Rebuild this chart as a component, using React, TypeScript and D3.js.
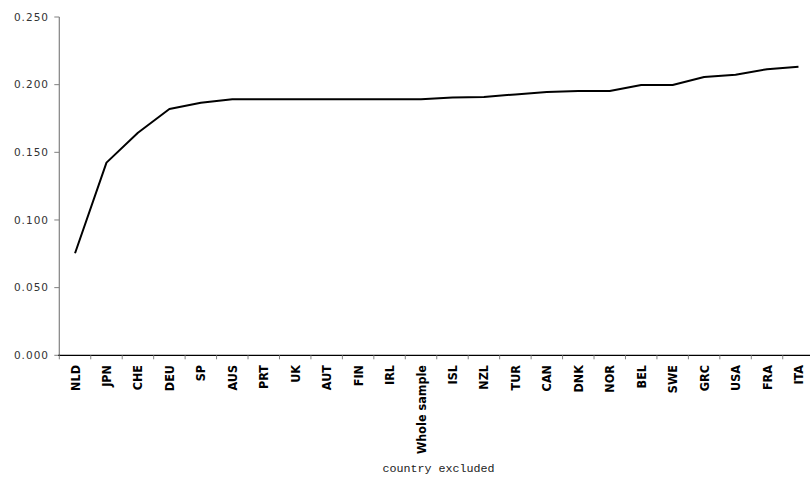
import React from "react";
import * as d3 from "d3";

const categories = [
  "NLD", "JPN", "CHE", "DEU", "SP", "AUS", "PRT", "UK", "AUT", "FIN", "IRL",
  "Whole sample", "ISL", "NZL", "TUR", "CAN", "DNK", "NOR", "BEL", "SWE",
  "GRC", "USA", "FRA", "ITA",
];
const values = [
  0.0754, 0.1424, 0.1645, 0.182, 0.1867, 0.1892, 0.1893, 0.1893, 0.1893,
  0.1893, 0.1893, 0.1893, 0.1906, 0.1909, 0.1928, 0.1945, 0.1953, 0.1953,
  0.1998, 0.1998, 0.2057, 0.2074, 0.2114, 0.2133,
];
const yTicks = [0, 0.05, 0.1, 0.15, 0.2, 0.25];
const xTitle = "country excluded";

export default function App() {
  const W = 810;
  const H = 478;
  const left = 59.3;
  const right = 814.2;
  const top = 17;
  const bottom = 355.3;

  const x = d3.scaleBand<string>().domain(categories).range([left, right]).padding(0);
  const y = d3.scaleLinear().domain([0, 0.25]).range([bottom, top]);
  const step = x.step();

  const line = d3
    .line<number>()
    .x((_, i) => (x(categories[i]) as number) + step / 2)
    .y((d) => y(d));

  return (
    <svg
      width={W}
      height={H}
      style={{ position: "absolute", left: 0, top: 0, display: "block", background: "#fff" }}
    >
      {/* y axis */}
      <line x1={left} x2={left} y1={top} y2={bottom} stroke="#808080" strokeWidth={1.2} />
      {yTicks.map((t) => (
        <g key={t}>
          <line x1={left - 5} x2={left} y1={y(t)} y2={y(t)} stroke="#808080" strokeWidth={1} />
          <text
            x={49}
            y={y(t)}
            dy="0.35em"
            textAnchor="end"
            fontFamily="DejaVu Sans, sans-serif"
            fontSize={10.5}
            letterSpacing={1}
            fill="#333"
          >
            {d3.format(".3f")(t)}
          </text>
        </g>
      ))}
      {/* x axis */}
      <line x1={left - 1} x2={W} y1={bottom} y2={bottom} stroke="#000" strokeWidth={1.2} />
      {categories.map((c) => (
        <line
          key={"t" + c}
          x1={x(c) as number}
          x2={x(c) as number}
          y1={bottom}
          y2={bottom + 4}
          stroke="#808080"
          strokeWidth={1}
        />
      ))}
      {categories.map((c) => {
        const cx = (x(c) as number) + step / 2;
        return (
          <text
            key={"l" + c}
            transform={`translate(${cx},365) rotate(-90)`}
            textAnchor="end"
            dy="0.36em"
            fontFamily="DejaVu Sans Condensed, DejaVu Sans, sans-serif"
            fontWeight="bold"
            fontSize={12.5}
            fill="#000"
          >
            {c}
          </text>
        );
      })}
      <text
        x={438.5}
        y={472}
        textAnchor="middle"
        fontFamily="Liberation Mono, monospace"
        fontSize={11.7}
        fill="#222"
      >
        {xTitle}
      </text>
      {/* series line */}
      <path d={line(values) || ""} fill="none" stroke="#000" strokeWidth={2} strokeLinejoin="round" />
    </svg>
  );
}
